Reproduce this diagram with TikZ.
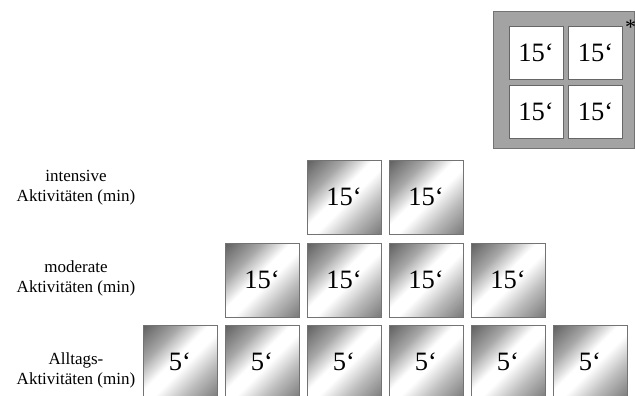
\documentclass[tikz,border=0pt]{standalone}
\usepackage{fontspec}
\setmainfont{Liberation Serif}
\usetikzlibrary{shadings}
\pgfdeclareverticalshading{actshade}{100bp}{color(0bp)=(black!52); color(15bp)=(black!52); color(32bp)=(black!26); color(46bp)=(white); color(54bp)=(white); color(68bp)=(black!35); color(85bp)=(black!62); color(100bp)=(black!62)}
\tikzset{
  actbox/.style={draw=black!55, line width=0.8pt, minimum size=74pt, inner sep=0pt,
    shading=actshade, shading angle=45,
    font=\fontsize{26.5}{26.5}\selectfont},
  insetbox/.style={draw=black!60, line width=0.8pt, fill=white, minimum width=54pt, minimum height=53pt,
    inner sep=0pt, font=\fontsize{26.5}{26.5}\selectfont},
  lbl/.style={align=center, font=\fontsize{17}{20}\selectfont, inner sep=0pt}
}
\begin{document}
\begin{tikzpicture}[x=1pt,y=-1pt]
\useasboundingbox (0,0) rectangle (635,396);
% inset
\node[draw=black!55, line width=0.8pt, fill=black!36, minimum width=141pt, minimum height=137pt, inner sep=0pt] (inset) at (563.5,79.5) {};
\node[insetbox] (i1) at (536,53) {15‘};
\node[insetbox] (i2) at (595.5,53) {15‘};
\node[insetbox] (i3) at (536,111.5) {15‘};
\node[insetbox] (i4) at (595.5,111.5) {15‘};
\node[font=\fontsize{22}{22}\selectfont, inner sep=0pt] (ast) at (630.5,27) {*};
% labels
\node[lbl] (lint) at (76,188) {intensive\\Aktivitäten (min)};
\node[lbl] (lmod) at (76,278) {moderate\\Aktivitäten (min)};
\node[lbl] (lall) at (76,370) {Alltags-\\Aktivitäten (min)};
% top row
\node[actbox] (t1) at (344,197) {15‘};
\node[actbox] (t2) at (426,197) {15‘};
% middle row
\node[actbox] (m1) at (262,280) {15‘};
\node[actbox] (m2) at (344,280) {15‘};
\node[actbox] (m3) at (426,280) {15‘};
\node[actbox] (m4) at (508,280) {15‘};
% bottom row
\node[actbox] (b1) at (180,362) {5‘};
\node[actbox] (b2) at (262,362) {5‘};
\node[actbox] (b3) at (344,362) {5‘};
\node[actbox] (b4) at (426,362) {5‘};
\node[actbox] (b5) at (508,362) {5‘};
\node[actbox] (b6) at (590,362) {5‘};
\end{tikzpicture}
\end{document}
